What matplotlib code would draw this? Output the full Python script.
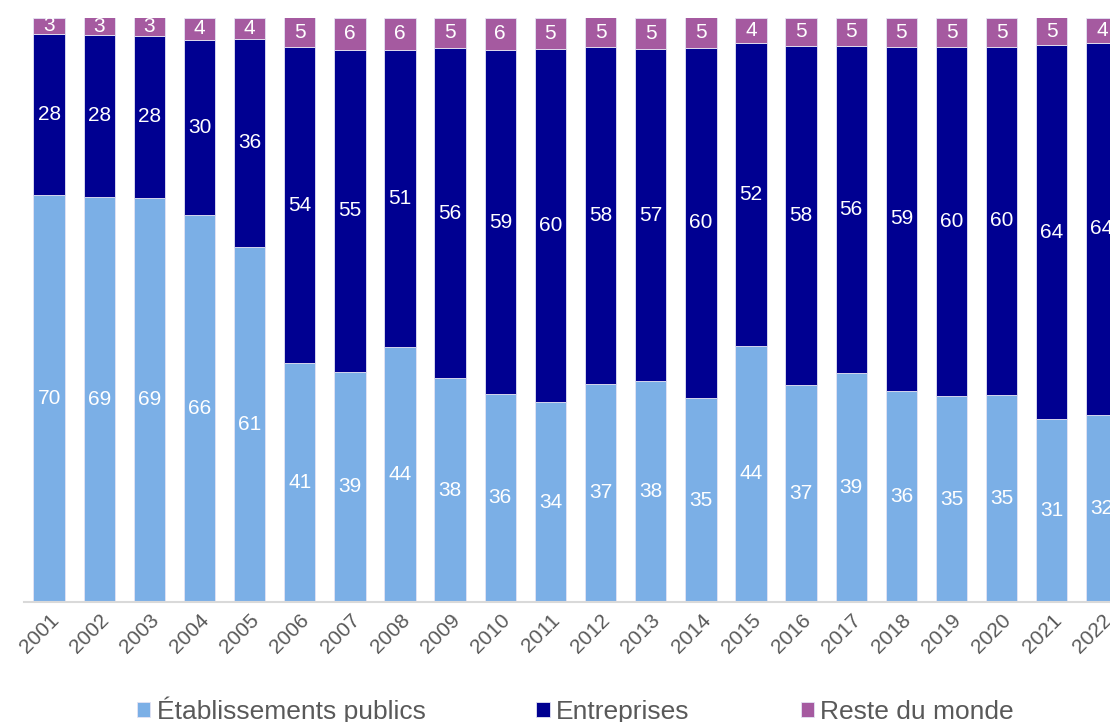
import matplotlib.pyplot as plt

plt.rcParams['font.family'] = ['Liberation Sans', 'DejaVu Sans']

# Data (shares in %)
years = [str(y) for y in range(2001, 2023)]
publics = [69.6, 69.3, 69.2, 66.2, 60.8, 40.9, 39.4, 43.6, 38.3, 35.6, 34.2,
           37.3, 37.8, 34.9, 43.8, 37.1, 39.2, 36.1, 35.2, 35.4, 31.3, 32.0]
entreprises = [27.6, 27.7, 27.6, 29.9, 35.6, 54.0, 55.0, 50.8, 56.4, 58.8, 60.4,
               57.6, 56.8, 59.9, 51.8, 58.0, 56.0, 58.9, 59.8, 59.6, 64.0, 63.7]
reste = [2.8, 3.0, 3.2, 3.9, 3.6, 5.1, 5.6, 5.6, 5.3, 5.6, 5.4,
         5.1, 5.4, 5.2, 4.4, 4.9, 4.8, 5.0, 5.0, 5.0, 4.7, 4.3]

series_names = ["Établissements publics", "Entreprises", "Reste du monde"]
colors = ["#7BAFE6", "#000091", "#A55AA0"]

fig = plt.figure(figsize=(11.1, 7.22), dpi=100)
# axes deliberately runs past the right edge (last bar is cut in the original)
ax = fig.add_axes([24 / 1110, 120 / 722, 1103 / 1110, 584.5 / 722])

x = list(range(len(years)))
bottom = [0.0] * len(years)
for name, vals, col in zip(series_names, [publics, entreprises, reste], colors):
    bars = ax.bar(x, vals, width=0.626, bottom=bottom, color=col, label=name,
                  edgecolor="#E4E4F4", linewidth=0.6)
    ax.bar_label(bars, fmt="%.0f", label_type="center", color="white", fontsize=15)
    bottom = [b + v for b, v in zip(bottom, vals)]

ax.set_xlim(-0.5, len(years) - 0.5)
ax.set_ylim(0, 100)
ax.set_xticks(x)
ax.set_xticklabels(years, rotation=45, ha="right", rotation_mode="anchor",
                   fontsize=15, color="#595959")
ax.tick_params(axis="x", length=0, pad=6)
ax.set_yticks([])
for side in ["top", "right", "left"]:
    ax.spines[side].set_visible(False)
ax.spines["bottom"].set_color("#D9D9D9")
ax.spines["bottom"].set_linewidth(1.5)

leg = ax.legend(loc="center", bbox_to_anchor=(0.5, -0.185), ncol=3, frameon=False,
                fontsize=19, handlelength=0.5, handleheight=0.5, handletextpad=0.25,
                columnspacing=4.2)
for t in leg.get_texts():
    t.set_color("#595959")

fig.savefig("out.png", dpi=100)
